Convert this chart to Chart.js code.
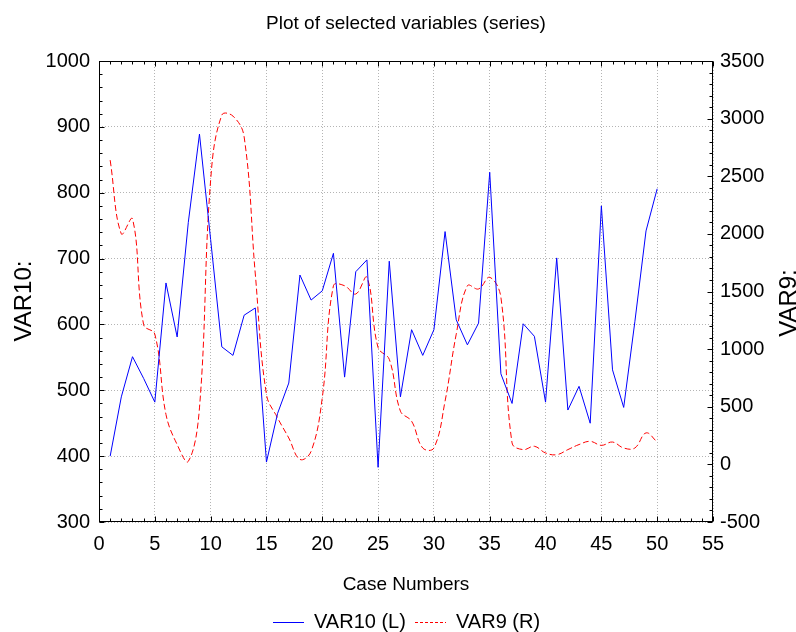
<!DOCTYPE html>
<html lang="en">
<head>
    <meta charset="UTF-8">
    <title>Plot of selected variables (series)</title>
    <style>
        html, body {
            margin: 0;
            padding: 0;
            background: #fff;
        }
        #wrap {
            width: 796px;
            height: 632px;
        }
    </style>
    <script src="https://cdn.jsdelivr.net/npm/chart.js"></script>
</head>
<body>
    <div id="wrap"><canvas id="seriesChart" width="796" height="632"></canvas></div>

    <script>
        // case numbers on the x axis
        const caseNumbers = [1, 2, 3, 4, 5, 6, 7, 8, 9, 10,
            11, 12, 13, 14, 15, 16, 17, 18, 19, 20,
            21, 22, 23, 24, 25, 26, 27, 28, 29, 30,
            31, 32, 33, 34, 35, 36, 37, 38, 39, 40,
            41, 42, 43, 44, 45, 46, 47, 48, 49, 50];

        // VAR10 (left axis)
        const var10 = [400, 490, 551, 518, 482, 663, 581, 755, 889, 729,
            566, 553, 614, 625, 391, 465, 511, 675, 637, 651,
            708, 520, 680, 698, 383, 696, 490, 592, 553, 592,
            741, 607, 569, 602, 831, 525, 480, 601, 582, 482,
            701, 470, 506, 450, 780, 531, 474, 604, 742, 806];

        // VAR9 (right axis)
        const var9 = [2640, 2000, 2131, 1211, 1130, 433, 172, 26, 490, 2465,
            3031, 3022, 2842, 1652, 607, 403, 229, 43, 113, 578,
            1550, 1550, 1478, 1623, 1013, 912, 462, 375, 142, 142,
            549, 1130, 1550, 1522, 1623, 1450, 186, 128, 157, 99,
            84, 128, 172, 200, 165, 194, 142, 142, 273, 194];

        const xTicks = [0, 55, 5];
        const leftTicks = [300, 1000, 100];
        const rightTicks = [-500, 3500, 500];

        const tickFont = { family: 'Arial, "Liberation Sans", sans-serif', size: 20 };
        const textFamily = 'Arial, "Liberation Sans", sans-serif';
        const plain = v => String(v);

        // frame, inward ticks, titles and legend
        const decorations = {
            id: 'decorations',
            afterDraw(chart) {
                const { ctx, chartArea: a, scales } = chart;
                const L = Math.round(a.left) + 0.5, R = Math.round(a.right) - 0.5;
                const T = Math.round(a.top) + 0.5, B = Math.round(a.bottom) - 0.5;
                ctx.save();
                ctx.strokeStyle = '#000';
                ctx.lineWidth = 1;
                ctx.setLineDash([]);
                ctx.strokeRect(L, T, R - L, B - T);

                ctx.beginPath();
                // x ticks top and bottom
                for (let v = xTicks[0]; v <= xTicks[1]; v += 1) {
                    const px = Math.round(scales.x.getPixelForValue(v)) + 0.5;
                    const len = v % xTicks[2] === 0 ? 5 : 3;
                    ctx.moveTo(px, B); ctx.lineTo(px, B - len);
                    ctx.moveTo(px, T); ctx.lineTo(px, T + len);
                }
                // left ticks
                for (let v = leftTicks[0]; v <= leftTicks[1]; v += 20) {
                    const py = Math.round(scales.y.getPixelForValue(v)) + 0.5;
                    const len = v % leftTicks[2] === 0 ? 5 : 3;
                    ctx.moveTo(L, py); ctx.lineTo(L + len, py);
                }
                // right ticks
                for (let v = rightTicks[0]; v <= rightTicks[1]; v += 100) {
                    const py = Math.round(scales.y2.getPixelForValue(v)) + 0.5;
                    const len = v % rightTicks[2] === 0 ? 5 : 3;
                    ctx.moveTo(R, py); ctx.lineTo(R - len, py);
                }
                ctx.stroke();

                ctx.fillStyle = '#000';
                ctx.textAlign = 'center';
                ctx.textBaseline = 'middle';

                // chart title
                ctx.font = '19px ' + textFamily;
                ctx.fillText('Plot of selected variables (series)', (a.left + a.right) / 2, 24);

                // x axis title
                ctx.font = '19px ' + textFamily;
                ctx.fillText('Case Numbers', (a.left + a.right) / 2, 585);

                // y axis titles
                ctx.font = '24px ' + textFamily;
                ctx.save();
                ctx.translate(24, 301);
                ctx.rotate(-Math.PI / 2);
                ctx.fillText('VAR10:', 0, 0);
                ctx.restore();
                ctx.save();
                ctx.translate(789, 303);
                ctx.rotate(-Math.PI / 2);
                ctx.fillText('VAR9:', 0, 0);
                ctx.restore();

                // legend
                ctx.font = '20px ' + textFamily;
                ctx.textAlign = 'left';
                const legendY = 622.5;
                const starts = [273, 415];
                chart.data.datasets.forEach((ds, i) => {
                    const x0 = starts[i];
                    ctx.strokeStyle = ds.borderColor;
                    ctx.setLineDash(ds.borderDash ? [3, 2] : []);
                    ctx.beginPath();
                    ctx.moveTo(x0, legendY);
                    ctx.lineTo(x0 + 31, legendY);
                    ctx.stroke();
                    ctx.setLineDash([]);
                    ctx.fillText(ds.label, x0 + 41, legendY);
                });
                ctx.restore();
            }
        };

        new Chart(document.getElementById('seriesChart'), {
            type: 'line',
            data: {
                labels: caseNumbers,
                datasets: [{
                    label: 'VAR10 (L)',
                    data: var10,
                    yAxisID: 'y',
                    borderColor: '#0000ff',
                    borderWidth: 1,
                    pointRadius: 0,
                    tension: 0,
                    fill: false
                }, {
                    label: 'VAR9 (R)',
                    data: var9,
                    yAxisID: 'y2',
                    borderColor: '#ff0000',
                    borderWidth: 1,
                    borderDash: [6, 3],
                    pointRadius: 0,
                    tension: 0.4,
                    fill: false
                }]
            },
            options: {
                responsive: false,
                animation: false,
                layout: { padding: { top: 61, left: 0, right: 0, bottom: 0 } },
                plugins: {
                    legend: { display: false },
                    title: { display: false },
                    tooltip: { enabled: false }
                },
                scales: {
                    x: {
                        type: 'linear',
                        min: xTicks[0],
                        max: xTicks[1],
                        ticks: { stepSize: xTicks[2], color: '#000', font: tickFont, padding: 10, maxRotation: 0, callback: plain },
                        grid: { color: '#b4b4b4', drawTicks: false },
                        border: { display: false, dash: [1, 2] },
                        afterFit: s => { s.height = 110; }
                    },
                    y: {
                        position: 'left',
                        min: leftTicks[0],
                        max: leftTicks[1],
                        ticks: { stepSize: leftTicks[2], color: '#000', font: tickFont, padding: 9, callback: plain },
                        grid: { color: '#b4b4b4', drawTicks: false },
                        border: { display: false, dash: [1, 2] },
                        afterFit: s => { s.width = 99; }
                    },
                    y2: {
                        position: 'right',
                        min: rightTicks[0],
                        max: rightTicks[1],
                        ticks: { stepSize: rightTicks[2], color: '#000', font: tickFont, padding: 7, callback: plain },
                        grid: { display: false, drawTicks: false },
                        border: { display: false },
                        afterFit: s => { s.width = 83; }
                    }
                }
            },
            plugins: [decorations]
        });
    </script>
</body>
</html>
